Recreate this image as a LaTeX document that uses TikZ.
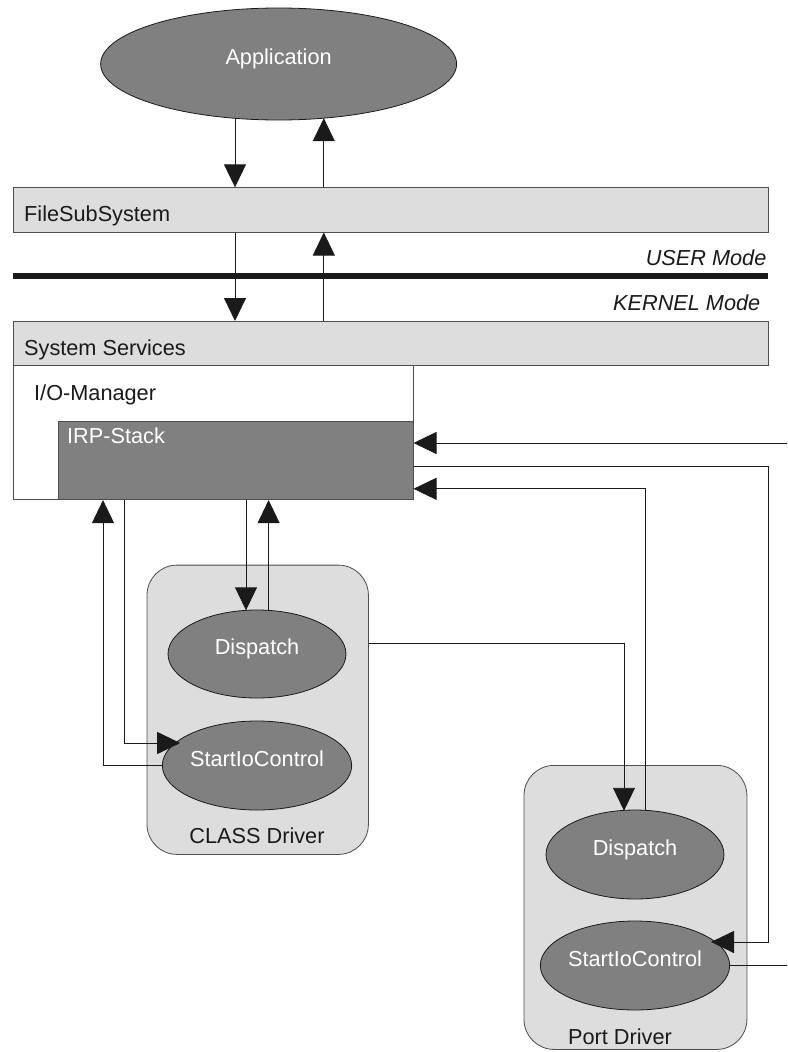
\documentclass[tikz,border=0pt]{standalone}
\usepackage{fontspec}
\setmainfont{Liberation Sans}
\usetikzlibrary{arrows.meta,calc,shapes.geometric}
\definecolor{ellgray}{HTML}{808080}
\definecolor{boxgray}{HTML}{DDDDDD}
\definecolor{edgegray}{HTML}{4D4D4D}
\definecolor{ink}{HTML}{1A1A1A}
\begin{document}
\begin{tikzpicture}[x=1pt,y=-1pt,
  font=\fontsize{21.7}{26}\selectfont,
  proc/.style={ellipse, draw=ink, line width=0.8pt, fill=ellgray, text=white,
    minimum width=178pt, minimum height=89pt, inner sep=0pt,
    text height=15pt, text depth=14pt},
  band/.style={rectangle, draw=edgegray, line width=0.8pt, fill=boxgray, inner sep=0pt},
  drvbox/.style={rectangle, rounded corners=30pt, draw=edgegray, line width=0.8pt,
    fill=boxgray, inner sep=0pt},
  lbl/.style={anchor=base west, inner sep=0pt, text=ink},
  modelbl/.style={anchor=base east, inner sep=0pt, text=ink,
    font=\fontsize{21.7}{26}\selectfont\itshape},
  conn/.style={draw=ink, line width=0.9pt},
  arr/.style={conn, -{Triangle[length=23pt,width=22pt]}},
]
\useasboundingbox (0,0) rectangle (787,1052);

% ---- bands ----
\node[band, minimum width=755.5pt, minimum height=44.4pt, anchor=north west] (fss) at (12.5,187.3) {};
\node[lbl] (fsstext) at (24,221) {FileSubSystem};
\node[modelbl] (user) at (766.6,265.7) {USER Mode};
\draw[line width=5.3pt, ink] (12.5,276) -- (768,276);
\node[modelbl] (kernel) at (760.5,310) {KERNEL Mode};
\node[band, minimum width=755.5pt, minimum height=44pt, anchor=north west] (sys) at (12.5,321) {};
\node[lbl] (systext) at (24,355) {System Services};
\node[band, fill=white, minimum width=400.2pt, minimum height=133.5pt, anchor=north west] (io) at (12.5,365) {};
\node[lbl] (iotext) at (34,400) {I/O-Manager};
\node[band, fill=ellgray, minimum width=355pt, minimum height=78.6pt, anchor=north west] (irp) at (57.7,420.7) {};
\node[lbl, text=white] (irptext) at (67,443) {IRP-Stack};

% ---- driver boxes ----
\node[drvbox, minimum width=221.4pt, minimum height=289.3pt, anchor=north west] (cbox) at (146.6,564.7) {};
\node[drvbox, minimum width=222.9pt, minimum height=284pt, anchor=north west] (pbox) at (523.6,765) {};
\node[anchor=base, inner sep=0pt, text=ink] (ctext) at (257,843) {CLASS Driver};
\node[anchor=base, inner sep=0pt, text=ink] (ptext) at (620,1044) {Port Driver};

% ---- ellipses ----
\node[proc, minimum width=356pt, minimum height=112pt] (app) at (278.6,64) {Application};
\node[proc, minimum height=88pt] (cdisp) at (257,654) {Dispatch};
\node[proc] (cstart) at (257,765.5) {StartIoControl};
\node[proc] (pdisp) at (635,854.5) {Dispatch};
\node[proc] (pstart) at (635,965.5) {StartIoControl};

% ---- helper coordinates ----
\coordinate (a1) at ($(app.center)+(-43.6,54.3)$);
\coordinate (a2) at ($(app.center)+(45.2,54.2)$);
\coordinate (c1) at ($(cdisp.center)+(-11,-43.7)$);
\coordinate (c2) at ($(cdisp.center)+(11.6,-43.7)$);
\coordinate (c3) at ($(cstart.center)+(-76.8,-22.5)$);
\coordinate (c4) at ($(cdisp.center)+(0,-11)$);
\coordinate (p1) at ($(pdisp.center)+(-11,-43.7)$);
\coordinate (p2) at ($(pdisp.center)+(10,-43.8)$);
\coordinate (p3) at ($(pstart.center)+(76,-23.5)$);
\coordinate (rr) at (fss.east |- p3);
\coordinate (ext1) at (787,443);
\coordinate (ext2) at (787,965.5);

% ---- connectors ----
\draw[arr] (a1) -- (a1 |- fss.north);
\draw[arr] (a2 |- fss.north) -- (a2);
\draw[arr] (a1 |- fss.south) -- (a1 |- sys.north);
\draw[arr] (a2 |- sys.north) -- (a2 |- fss.south);

\draw[arr] (c1 |- irp.south) -- (c1);
\draw[arr] (c2) -- (c2 |- irp.south);
\draw[arr] ($(irp.south west)+(66.8,0)$) |- (c3);
\draw[arr] (cstart.west) -| ($(irp.south west)+(45.3,0)$);

\draw[arr] (cbox.east |- c4) -| (p1);
\draw[arr] (p2) |- ($(irp.south east)+(0,-11.3)$);
\draw[arr] ($(irp.north east)+(0,45.3)$) -| (rr) -- (p3);
\draw[arr] (ext1) -- (irp.east |- ext1);
\draw[conn] (pstart.east) -- (ext2);
\end{tikzpicture}
\end{document}
